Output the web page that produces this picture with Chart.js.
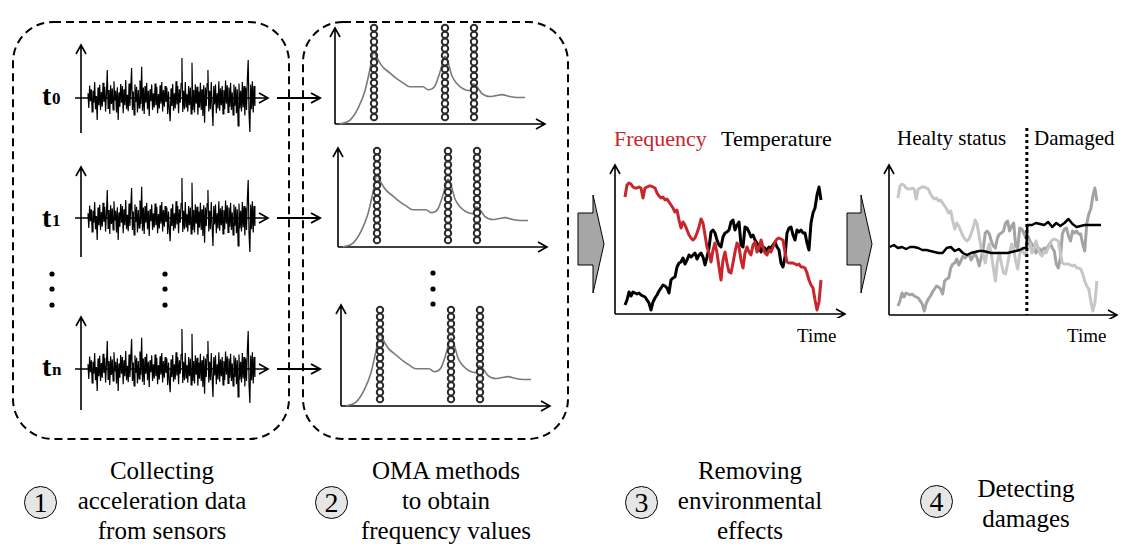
<!DOCTYPE html>
<html>
<head>
<meta charset="utf-8">
<script src="https://cdn.jsdelivr.net/npm/chart.js@4.4.1/dist/chart.umd.min.js"></script>
<style>
html,body{margin:0;padding:0;background:#fff;}
#stage{position:relative;width:1128px;height:550px;overflow:hidden;font-family:Liberation Serif,serif;color:#000;}
#stage canvas{position:absolute;}
#stage svg{position:absolute;left:0;top:0;}
.txt{position:absolute;white-space:nowrap;line-height:1;}
.blk{position:absolute;width:260px;text-align:center;font-size:25px;line-height:30px;white-space:nowrap;}
.num{position:absolute;width:33px;height:33px;border:1px solid #000;border-radius:50%;background:#e6e6e6;font-size:28px;line-height:31px;text-align:center;box-sizing:border-box;}
.tl{position:absolute;font-weight:bold;line-height:1;white-space:nowrap;}
</style>
</head>
<body>
<div id="stage" style="font-family:'Liberation Serif'">
<svg width="1128" height="550">
  <g fill="none" stroke="#000" stroke-width="2" stroke-dasharray="8 5">
    <rect x="13" y="22" width="276" height="417" rx="40"/>
    <rect x="303" y="22" width="265" height="417" rx="40"/>
  </g>
  <g fill="none" stroke="#000" stroke-width="2">
    <line x1="277" y1="98" x2="319" y2="98"/><polyline points="311,93 320,98 311,103"/>
    <line x1="277" y1="218" x2="319" y2="218"/><polyline points="311,213 320,218 311,223"/>
    <line x1="277" y1="369" x2="319" y2="369"/><polyline points="311,364 320,369 311,374"/>
  </g>
  <g fill="#000">
    <circle cx="52" cy="274" r="2.6"/><circle cx="52" cy="289" r="2.6"/><circle cx="52" cy="305" r="2.6"/>
    <circle cx="165" cy="274" r="2.6"/><circle cx="165" cy="289" r="2.6"/><circle cx="165" cy="305" r="2.6"/>
    <circle cx="433" cy="273" r="2.6"/><circle cx="433" cy="289" r="2.6"/><circle cx="433" cy="304" r="2.6"/>
  </g>
  <g fill="#a6a6a6" stroke="#000" stroke-width="1">
    <polygon points="578,213 593,213 593,195 604,244 593,293 593,265 578,265"/>
    <polygon points="847,213 861,213 861,195 872,244 861,293 861,265 847,265"/>
  </g>
</svg>

<div class="tl" style="left:42px;top:82px;font-size:28px;font-family:'Liberation Serif'">t</div><div class="tl" style="left:52px;top:90px;font-size:17px;font-family:'Liberation Serif'">0</div>
<div class="tl" style="left:42px;top:204px;font-size:28px;font-family:'Liberation Serif'">t</div><div class="tl" style="left:52px;top:212px;font-size:17px;font-family:'Liberation Serif'">1</div>
<div class="tl" style="left:42px;top:353px;font-size:28px;font-family:'Liberation Serif'">t</div><div class="tl" style="left:52px;top:361px;font-size:17px;font-family:'Liberation Serif'">n</div>

<div class="txt" style="left:614px;top:128px;font-size:22px;color:#c9252c;font-family:'Liberation Serif'">Frequency</div>
<div class="txt" style="left:721px;top:128px;font-size:22px;font-family:'Liberation Serif'">Temperature</div>
<div class="txt" style="left:797px;top:326px;font-size:19px;font-family:'Liberation Serif'">Time</div>
<div class="txt" style="left:897px;top:128px;font-size:21px;font-family:'Liberation Serif'">Healty status</div>
<div class="txt" style="left:1034px;top:128px;font-size:21px;font-family:'Liberation Serif'">Damaged</div>
<div class="txt" style="left:1067px;top:326px;font-size:19px;font-family:'Liberation Serif'">Time</div>

<div class="num" style="left:24px;top:486px;font-family:'Liberation Serif'">1</div>
<div class="blk" style="left:32px;top:456px;font-family:'Liberation Serif'">Collecting<br>acceleration data<br>from sensors</div>
<div class="num" style="left:315px;top:486px;font-family:'Liberation Serif'">2</div>
<div class="blk" style="left:316px;top:456px;font-family:'Liberation Serif'">OMA methods<br>to obtain<br>frequency values</div>
<div class="num" style="left:625px;top:486px;font-family:'Liberation Serif'">3</div>
<div class="blk" style="left:620px;top:456px;font-family:'Liberation Serif'">Removing<br>environmental<br>effects</div>
<div class="num" style="left:920px;top:485px;font-family:'Liberation Serif'">4</div>
<div class="blk" style="left:896px;top:474px;font-family:'Liberation Serif'">Detecting<br>damages</div>
</div>

<script>
// acceleration record of one sensor (same record shown for t0, t1, tn)
const accel = [
  0.12,-0.25,0.31,-0.08,0.22,-0.35,0.18,-0.12,0.40,-0.28,0.05,-0.55,0.26,-0.18,0.33,-0.30,0.15,-0.22,0.38,-0.10,
  0.28,-0.34,0.10,0.70,-0.26,0.20,-0.40,0.32,-0.15,0.24,-0.30,0.42,-0.06,0.18,-0.36,0.27,-0.55,0.14,-0.22,0.35,
  -0.12,0.30,-0.38,0.22,-0.18,0.45,-0.28,0.08,-0.33,0.36,-0.20,0.25,0.75,-0.30,0.16,-0.42,0.34,-0.10,0.28,-0.36,
  0.20,-0.25,0.44,-0.15,0.78,-0.32,0.26,-0.40,0.30,-0.12,0.38,-0.28,0.18,-0.45,0.22,-0.08,0.34,-0.30,0.12,-0.24,
  0.36,-0.18,0.28,-0.38,0.10,-0.26,0.32,-0.14,0.40,-0.34,0.20,-0.22,0.30,-0.10,0.26,-0.40,0.16,-0.30,-0.58,0.24,
  -0.20,0.35,-0.32,0.12,-0.26,0.42,-0.16,0.30,-0.38,0.22,-0.12,0.36,1.00,-0.35,0.18,-0.28,0.40,-0.22,0.10,-0.34,
  0.30,-0.18,0.26,-0.40,0.88,-0.30,0.20,-0.36,0.34,-0.14,0.28,-0.42,0.16,-0.24,0.38,-0.30,0.22,-0.45,0.32,-0.62,
  0.26,-0.20,0.36,0.70,-0.34,0.18,-0.28,0.40,-0.22,-0.70,0.30,-0.16,0.34,-0.38,0.12,-0.26,0.42,-0.32,0.24,-0.18,
  0.30,-0.40,0.20,-0.28,0.44,-0.14,0.32,-0.36,0.26,-0.22,0.38,-0.30,0.14,-0.42,0.34,-0.20,0.28,-0.38,0.22,-0.70,
  0.36,-0.26,0.18,-0.34,0.40,-0.24,0.30,-0.44,0.26,-0.30,0.48,0.95,-0.40,-0.85,0.34,-0.28,0.42,-0.36,0.30,-0.20
];

// spectrum (frequency bin -> amplitude)
const freqBins = [5,15,23,30,35,39,41,44,48,55,62,68,75,82,88,93,100,105,110,113,117,122,128,135,138,142,147,155,161,167,175,182,190];
const spectrum = [0,4,16,34,56,74,70,64,58,52,46,42,38,38,38,35,39,53,69,63,49,41,36,34,41,38,31,28,29,30,28,27,27];
// picked modes and the stack of identified values for each
const modePeaks = [39,110,139];
const modeStack = [7,14,21,28,35,42,49,56,63,70,77,84,91,98];

// monitored series over time
const frequency = [117,129,131,130,127,126,126,127,126,116,126,127,128,128,127,126,121,118,116,117,
  114,115,112,109,106,102,104,94,86,92,89,84,79,76,74,76,81,87,95,91,
  79,67,61,52,64,71,61,47,34,54,62,51,42,41,51,62,71,67,54,46,
  61,67,62,59,69,72,62,66,74,67,61,59,64,62,67,72,75,76,75,74,
  62,52,51,51,51,50,49,50,47,47,46,41,34,29,26,14,4,12,34];
const temperature = [9,14,22,18,22,21,20,21,19,18,17,14,11,4,12,16,19,23,26,29,
  28,26,21,34,36,37,47,51,52,56,50,54,59,57,59,61,55,59,61,57,
  49,57,66,82,84,81,74,69,67,77,81,82,84,92,94,84,89,92,69,67,
  87,86,82,77,79,74,71,68,62,67,66,63,67,66,69,72,67,64,51,47,
  57,81,86,87,79,74,84,82,84,81,81,71,64,91,101,106,119,127,114];
// damage index after removing environmental effects
const healthTime = [-4,-2,0,2,4,6,8,10,12,14,16,18,20,22,24,26,28,30,32,34,36,38,40,42,44,46,48,50,52,54,56,58,60,62,63.3,63.7,66,68,70,72,74,76,78,80,82,84,86,88,90,92,94,96,98,100];
const healthIndex = [68,70,67,68,66,68,68,67,65,65,64,63,62,62,67,68,64,66,62,60,62,63,64,64,63,62,62,62,62,62,63,64,65,67,67,90,90,92,91,90,93,88,92,89,92,96,91,88,89,90,90,90,90,90];
const damageStart = 63.5;

const stage = document.getElementById('stage');
stage.querySelectorAll('div').forEach(d => { d.style.fontFamily = "'Liberation Serif', serif"; });

const arrowAxes = {
  id: 'arrowAxes',
  beforeDatasetsDraw(chart, args, o) {
    const ctx = chart.ctx, a = chart.chartArea;
    const y0 = o.xAt === undefined ? a.bottom : chart.scales.y.getPixelForValue(o.xAt);
    ctx.save();
    ctx.strokeStyle = '#000';
    ctx.lineWidth = 1.6;
    ctx.beginPath();
    ctx.moveTo(a.left, a.bottom);
    ctx.lineTo(a.left, a.top);
    ctx.moveTo(a.left - (o.xBack || 0), y0);
    ctx.lineTo(a.right, y0);
    ctx.moveTo(a.left - 5, a.top + 9);
    ctx.lineTo(a.left, a.top);
    ctx.lineTo(a.left + 5, a.top + 9);
    ctx.moveTo(a.right - 9, y0 - 5);
    ctx.lineTo(a.right, y0);
    ctx.lineTo(a.right - 9, y0 + 5);
    ctx.stroke();
    ctx.restore();
  },
  afterDatasetsDraw(chart, args, o) {
    if (o.markAt === undefined) return;
    const ctx = chart.ctx, a = chart.chartArea;
    const x = chart.scales.x.getPixelForValue(o.markAt);
    ctx.save();
    ctx.strokeStyle = '#000';
    ctx.lineWidth = 3;
    ctx.setLineDash([3, 3]);
    ctx.beginPath();
    ctx.moveTo(x, a.top - 37);
    ctx.lineTo(x, a.bottom);
    ctx.stroke();
    ctx.restore();
  }
};

function place(box, pad, datasets, xr, yr, axes) {
  const c = document.createElement('canvas');
  const w = box[2] + pad[0] + pad[2], h = box[3] + pad[1] + pad[3];
  c.width = w; c.height = h;
  c.style.left = (box[0] - pad[0]) + 'px';
  c.style.top = (box[1] - pad[1]) + 'px';
  c.style.width = w + 'px';
  c.style.height = h + 'px';
  stage.appendChild(c);
  return new Chart(c, {
    type: 'line',
    data: { datasets: datasets },
    plugins: [arrowAxes],
    options: {
      responsive: false,
      animation: false,
      devicePixelRatio: 1,
      layout: { padding: { left: pad[0], top: pad[1], right: pad[2], bottom: pad[3] } },
      plugins: { legend: { display: false }, tooltip: { enabled: false }, arrowAxes: axes },
      elements: { point: { radius: 0 } },
      scales: {
        x: { type: 'linear', display: false, min: xr[0], max: xr[1] },
        y: { type: 'linear', display: false, min: yr[0], max: yr[1] }
      }
    }
  });
}

// 1) acceleration records
const accelPts = accel.map((v, i) => ({ x: i, y: v }));
[[81, 45, 187, 88, 98], [81, 167, 187, 90, 218], [81, 317, 187, 93, 369]].forEach(r => {
  const up = (r[4] - r[1]) / 40, down = (r[1] + r[3] - r[4]) / 40;
  place(r.slice(0, 4), [10, 8, 8, 4], [{
    data: accelPts, borderColor: '#000', borderWidth: 1.2, tension: 0, clip: false
  }], [-8.3, 214.6], [-down, up], { xAt: 0, xBack: 6 });
});

// 2) spectra with picked modes
const specPts = freqBins.map((f, i) => ({ x: f, y: spectrum[i] }));
const markPts = [];
modePeaks.forEach(p => modeStack.forEach(s => markPts.push({ x: p, y: s })));
[[335, 28, 210, 98], [338, 148, 209, 101], [341, 305, 209, 103]].forEach(r => {
  place(r, [10, 10, 10, 4], [
    { data: markPts, showLine: false, pointRadius: 3.2, pointBorderWidth: 2, pointBorderColor: '#2b2b2b',
      pointBackgroundColor: 'rgba(0,0,0,0)', clip: false },
    { data: specPts, borderColor: '#7a7a7a', borderWidth: 1.6, cubicInterpolationMode: 'monotone', clip: false }
  ], [0, r[2]], [0, r[3]], {});
});

// 3) frequency and temperature
const freqPts = frequency.map((v, i) => ({ x: i, y: v }));
const tempPts = temperature.map((v, i) => ({ x: i, y: v }));
place([615, 165, 230, 149], [10, 10, 10, 4], [
  { data: freqPts, borderColor: '#c9252c', borderWidth: 3, tension: 0, borderJoinStyle: 'round', clip: false },
  { data: tempPts, borderColor: '#000', borderWidth: 3, tension: 0, borderJoinStyle: 'round', clip: false }
], [-5, 110], [0, 149], {});

// 4) damage detection
const healthPts = healthTime.map((t, i) => ({ x: t, y: healthIndex[i] }));
place([889, 165, 228, 150], [10, 45, 10, 4], [
  { data: healthPts, borderColor: '#000', borderWidth: 2.5, tension: 0, borderJoinStyle: 'round', clip: false },
  { data: freqPts, borderColor: '#c6c6c6', borderWidth: 3, tension: 0, borderJoinStyle: 'round', clip: false },
  { data: tempPts, borderColor: '#a3a3a3', borderWidth: 3, tension: 0, borderJoinStyle: 'round', clip: false }
], [-4.4, 107.9], [0, 150], { markAt: damageStart });
</script>
</body>
</html>
